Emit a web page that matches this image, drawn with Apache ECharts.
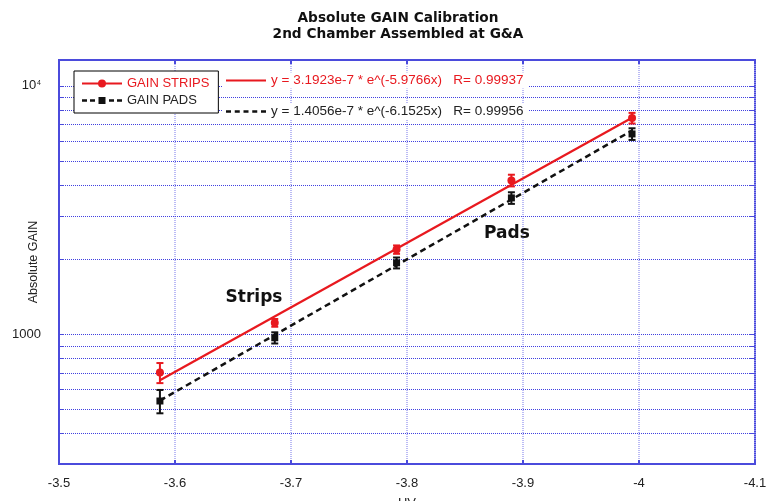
<!DOCTYPE html>
<html>
<head>
<meta charset="utf-8">
<title>Absolute GAIN Calibration</title>
<script src="https://cdn.jsdelivr.net/npm/echarts@6/dist/echarts.min.js"></script>
<style>
  html, body { margin: 0; padding: 0; background: #fff; }
  #chart { width: 768px; height: 501px; }
</style>
</head>
<body>
<div id="chart"></div>
<script>
// High voltage (kV, negative polarity)
const hv = [-3.587, -3.686, -3.791, -3.890, -3.994];
// Measured gain and its error, strips readout
const gainStrips = [700, 1111, 2191, 4159, 7413];
const errStrips = [65, 40, 85, 225, 365];
// Measured gain and its error, pads readout
const gainPads = [538, 967, 1937, 3536, 6398];
const errPads = [58, 50, 98, 190, 345];
// Exponential fits y = a * e^(b x): [a, b, R]
const fitStrips = [3.1923e-7, -5.9766, 0.99937];
const fitPads = [1.4056e-7, -6.1525, 0.99956];
// Horizontal grid rows of the log axis
const yGridValues = [400, 500, 600, 700, 800, 900, 1000, 2000, 3000, 4000, 5000, 6000, 7000, 8000, 9000, 10000];

const RED = '#e8191f';
const BLACK = '#111111';
const BLUE = '#4b4bdc';
const SANS = '"Liberation Sans", Arial, sans-serif';
const BOLD = '"DejaVu Sans", sans-serif';

function fitLabel(f) {
  return 'y = ' + f[0].toExponential(4) + ' * e^(' + f[1].toFixed(4) + 'x)   R= ' + f[2].toFixed(5);
}
function fitEnds(f) {
  const x0 = hv[0], x1 = hv[hv.length - 1];
  return [[x0, f[0] * Math.exp(f[1] * x0)], [x1, f[0] * Math.exp(f[1] * x1)]];
}
const labelStrips = fitLabel(fitStrips);
const labelPads = fitLabel(fitPads);

function errorBars(name, values, errs, color) {
  return {
    type: 'custom',
    name: name,
    z: 3,
    silent: true,
    data: hv.map((x, i) => [x, values[i] - errs[i], values[i] + errs[i]]),
    encode: { x: 0, y: [1, 2] },
    renderItem: function (params, api) {
      const lo = api.coord([api.value(0), api.value(1)]);
      const hi = api.coord([api.value(0), api.value(2)]);
      const hw = 3.5;
      const st = { stroke: color, lineWidth: 2 };
      return {
        type: 'group',
        children: [
          { type: 'line', shape: { x1: lo[0], y1: lo[1], x2: hi[0], y2: hi[1] }, style: st },
          { type: 'line', shape: { x1: lo[0] - hw, y1: lo[1], x2: lo[0] + hw, y2: lo[1] }, style: st },
          { type: 'line', shape: { x1: hi[0] - hw, y1: hi[1], x2: hi[0] + hw, y2: hi[1] }, style: st }
        ]
      };
    }
  };
}

const iconStrips = 'path://M0,3h40v2H0Z M24,4a4,4 0 1,1 -8,0a4,4 0 1,1 8,0Z';
const iconPads = 'path://M0,2.75h5v2.5H0Z M8,2.75h5v2.5H8Z M16.5,0.5h7v7h-7Z M27,2.75h5v2.5h-5Z M35,2.75h5v2.5h-5Z M0,0h0.01v8H0Z';
const iconFitStrips = 'path://M0,0h40v2H0Z';
const iconFitPads = 'path://M0,0h5v2.5H0Z M8.75,0h5v2.5h-5Z M17.5,0h5v2.5h-5Z M26.25,0h5v2.5h-5Z M35,0h5v2.5h-5Z';

const chart = echarts.init(document.getElementById('chart'), null, { renderer: 'canvas' });

chart.setOption({
  animation: false,
  backgroundColor: '#ffffff',
  title: {
    text: 'Absolute GAIN Calibration\n2nd Chamber Assembled at G&A',
    left: 398,
    top: 10,
    padding: 0,
    textAlign: 'center',
    textStyle: { fontFamily: BOLD, fontWeight: 'bold', fontSize: 13.7, lineHeight: 16, color: '#111' }
  },
  grid: {
    left: 59, right: 13, top: 60, bottom: 37,
    containLabel: false,
    outerBoundsMode: 'none',
    show: true, borderColor: BLUE, borderWidth: 2, backgroundColor: 'transparent'
  },
  legend: [
    {
      left: 74, top: 71, orient: 'vertical',
      itemWidth: 40, itemHeight: 8, itemGap: 4,
      padding: [6, 9, 6, 8],
      backgroundColor: '#fff', borderColor: '#000', borderWidth: 1,
      selectedMode: false,
      textStyle: { fontFamily: SANS, fontSize: 13 },
      data: [
        { name: 'GAIN STRIPS', icon: iconStrips, itemStyle: { color: RED, borderWidth: 0 }, textStyle: { color: RED } },
        { name: 'GAIN PADS', icon: iconPads, itemStyle: { color: BLACK, borderWidth: 0 }, textStyle: { color: '#222' } }
      ]
    },
    {
      left: 222, top: 72.5,
      itemWidth: 40, itemHeight: 2,
      padding: [1, 5, 1, 4],
      backgroundColor: '#fff', selectedMode: false,
      textStyle: { fontFamily: SANS, fontSize: 13.5 },
      data: [{ name: labelStrips, icon: iconFitStrips, itemStyle: { color: RED, borderWidth: 0 }, textStyle: { color: RED } }]
    },
    {
      left: 222, top: 103.5,
      itemWidth: 40, itemHeight: 2.5,
      padding: [1, 5, 1, 4],
      backgroundColor: '#fff', selectedMode: false,
      textStyle: { fontFamily: SANS, fontSize: 13.5 },
      data: [{ name: labelPads, icon: iconFitPads, itemStyle: { color: BLACK, borderWidth: 0 }, textStyle: { color: '#222' } }]
    }
  ],
  xAxis: [
    {
      type: 'value', min: -4.1, max: -3.5, interval: 0.1, inverse: true, position: 'bottom',
      name: 'HV', nameLocation: 'middle', nameGap: 33, nameMoveOverlap: false,
      nameTextStyle: { fontFamily: SANS, fontSize: 13, color: '#222', verticalAlign: 'top' },
      axisLine: { show: true, onZero: false, lineStyle: { color: BLUE, width: 2 } },
      axisTick: { show: true, inside: true, length: 4, lineStyle: { color: BLUE, width: 2 } },
      axisLabel: { margin: 13, fontFamily: SANS, fontSize: 13, color: '#222' },
      splitLine: { show: true, lineStyle: { color: '#a4a4f2', width: 1.5, type: [1, 1] } }
    },
    {
      type: 'value', min: -4.1, max: -3.5, interval: 0.1, inverse: true, position: 'top',
      axisLine: { show: false },
      axisTick: { show: true, inside: true, length: 4, lineStyle: { color: BLUE, width: 2 } },
      axisLabel: { show: false },
      splitLine: { show: false }
    }
  ],
  yAxis: {
    type: 'log', logBase: 10, min: 300, max: 12700,
    name: 'Absolute GAIN', nameLocation: 'middle', nameGap: 18.5, nameRotate: 90, nameMoveOverlap: false,
    nameTextStyle: { fontFamily: SANS, fontSize: 12.5, color: '#222' },
    axisLine: { show: true, lineStyle: { color: BLUE, width: 2 } },
    axisTick: { show: false },
    minorTick: { show: false },
    splitLine: { show: false },
    axisLabel: {
      margin: 18,
      fontFamily: SANS, fontSize: 13, color: '#222',
      formatter: function (v) {
        const e = Math.log10(v);
        if (Math.abs(e - Math.round(e)) > 1e-6) return '';
        const n = Math.round(e);
        if (n === 3) return '1000';
        if (n === 4) return '{m|10}{s|4}';
        return '';
      },
      rich: {
        m: { fontFamily: SANS, fontSize: 13, color: '#222', lineHeight: 13, verticalAlign: 'bottom' },
        s: { fontFamily: SANS, fontSize: 7, color: '#222', lineHeight: 7, padding: [0, 0, 9, 1], verticalAlign: 'top' }
      }
    }
  },
  graphic: [
    { type: 'text', z: 10, style: { text: 'Strips', x: 254, y: 298, textAlign: 'center', textVerticalAlign: 'middle', font: 'bold 17px "DejaVu Sans", sans-serif', fill: '#111' } },
    { type: 'text', z: 10, style: { text: 'Pads', x: 507, y: 234, textAlign: 'center', textVerticalAlign: 'middle', font: 'bold 17px "DejaVu Sans", sans-serif', fill: '#111' } }
  ],
  series: [
    {
      type: 'custom',
      name: 'grid rows',
      z: 1,
      silent: true,
      data: yGridValues.map(v => [-3.5, v]),
      renderItem: function (params, api) {
        const cs = params.coordSys;
        const y = Math.round(api.coord([api.value(0), api.value(1)])[1]) + 0.5;
        return {
          type: 'group',
          children: [
            { type: 'line', shape: { x1: cs.x, y1: y, x2: cs.x + cs.width, y2: y }, style: { stroke: '#4040e0', lineWidth: 1, lineDash: [1, 1] } },
            { type: 'line', shape: { x1: cs.x, y1: y, x2: cs.x + 5, y2: y }, style: { stroke: BLUE, lineWidth: 1 } },
            { type: 'line', shape: { x1: cs.x + cs.width - 5, y1: y, x2: cs.x + cs.width, y2: y }, style: { stroke: BLUE, lineWidth: 1 } }
          ]
        };
      }
    },
    {
      type: 'line', name: labelStrips, z: 2, silent: true,
      data: fitEnds(fitStrips), symbol: 'none',
      itemStyle: { color: RED },
      lineStyle: { color: RED, width: 2.2 }
    },
    {
      type: 'line', name: labelPads, z: 2, silent: true,
      data: fitEnds(fitPads), symbol: 'none',
      itemStyle: { color: BLACK },
      lineStyle: { color: BLACK, width: 2.5, type: [6, 4] }
    },
    errorBars('strips error', gainStrips, errStrips, RED),
    errorBars('pads error', gainPads, errPads, BLACK),
    {
      type: 'scatter', name: 'GAIN STRIPS', z: 4, silent: true,
      data: hv.map((x, i) => [x, gainStrips[i]]),
      symbol: 'circle', symbolSize: 8,
      itemStyle: { color: RED, opacity: 1 }
    },
    {
      type: 'scatter', name: 'GAIN PADS', z: 4, silent: true,
      data: hv.map((x, i) => [x, gainPads[i]]),
      symbol: 'rect', symbolSize: 7,
      itemStyle: { color: BLACK, opacity: 1 }
    }
  ]
});
</script>
</body>
</html>
